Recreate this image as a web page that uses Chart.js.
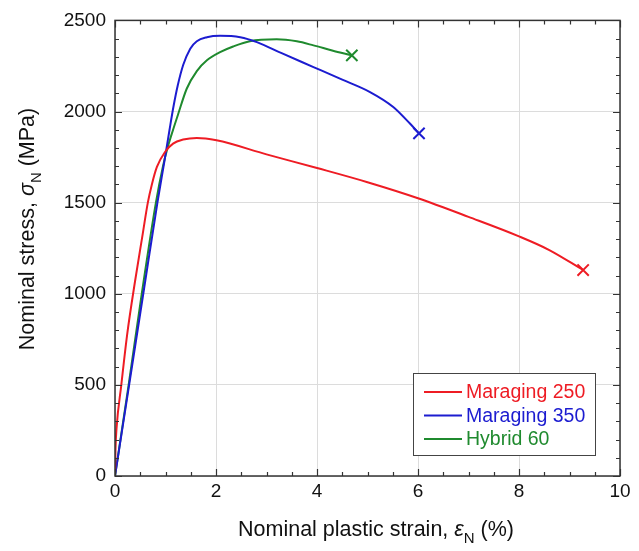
<!DOCTYPE html>
<html>
<head>
<meta charset="utf-8">
<script src="https://cdn.jsdelivr.net/npm/chart.js@4/dist/chart.umd.min.js"></script>
<style>
html,body{margin:0;padding:0;background:#fff;}
#wrap{width:639px;height:551px;}
</style>
</head>
<body>
<div id="wrap"><canvas id="c" width="639" height="551"></canvas></div>
<script>
// ---- data ----
const seriesNames = ["Maraging 250", "Maraging 350", "Hybrid 60"];
const m250X = [0, 0.01, 0.03, 0.125, 0.24, 0.40, 0.55, 0.65, 0.73, 0.83, 0.99, 1.15, 1.35, 1.62, 2.01, 3.0, 4.0, 5.0, 6.0, 7.0, 8.0, 8.6, 9.27];
const m250Y = [0, 150, 260, 500, 775, 1074, 1330, 1500, 1600, 1696, 1778, 1824, 1846, 1855, 1842, 1765, 1690, 1612, 1524, 1422, 1315, 1240, 1130];
const m350X = [0, 0.28, 0.56, 0.84, 0.98, 1.08, 1.16, 1.24, 1.35, 1.49, 1.62, 1.82, 2.08, 2.48, 2.81, 3.3, 3.93, 4.5, 5.05, 5.51, 5.84, 6.02];
const m350Y = [0, 500, 1000, 1500, 1730, 1900, 2030, 2140, 2255, 2345, 2386, 2408, 2416, 2408, 2381, 2320, 2244, 2175, 2107, 2025, 1934, 1880];
const h60X = [0, 0.27, 0.53, 0.81, 0.95, 1.04, 1.15, 1.25, 1.42, 1.62, 1.82, 2.08, 2.34, 2.67, 3.2, 3.6, 3.93, 4.3, 4.69];
const h60Y = [0, 500, 1000, 1500, 1700, 1800, 1900, 1985, 2125, 2222, 2281, 2326, 2357, 2386, 2396, 2385, 2363, 2335, 2308];
const xTickValues = [0, 2, 4, 6, 8, 10];
const yTickValues = [0, 500, 1000, 1500, 2000, 2500];
const xTitleParts = ["Nominal plastic strain, ", "ε", "N", " (%)"];
const yTitleParts = ["Nominal stress, ", "σ", "N", " (MPa)"];

const colors = ["#ee1c24", "#1c1cd0", "#1f8a2e"];
const FONT = "'Liberation Sans', Arial, sans-serif";

function pts(xs, ys){ return xs.map((x,i)=>({x:x, y:ys[i]})); }
function mkDs(label, xs, ys, color){
  const n = xs.length;
  return {
    label: label,
    data: pts(xs, ys),
    showLine: true,
    borderColor: color,
    backgroundColor: color,
    borderWidth: 2,
    cubicInterpolationMode: 'monotone',
    pointStyle: 'crossRot',
    pointRadius: (ctx)=> ctx.dataIndex === n-1 ? 8 : 0,
    pointBorderWidth: 2,
    pointHoverRadius: 0
  };
}

function drawSubTitle(ctx, parts, bigPx, smallPx, cx, by){
  const fonts = [bigPx + "px " + FONT, "italic " + bigPx + "px " + FONT, smallPx + "px " + FONT, bigPx + "px " + FONT];
  const offs = [0, 0, 7, 0];
  const ws = parts.map((p, i)=>{ ctx.font = fonts[i]; return ctx.measureText(p).width; });
  let s = cx - ws.reduce((a,b)=>a+b, 0)/2;
  parts.forEach((p, i)=>{ ctx.font = fonts[i]; ctx.fillText(p, s, by + offs[i]); s += ws[i]; });
}

const frame = {
  id: 'frame',
  afterDraw(chart){
    const ctx = chart.ctx;
    const a = chart.chartArea;
    const xs = chart.scales.x, ys = chart.scales.y;
    ctx.save();
    // ticks inward on all sides
    ctx.strokeStyle = '#333';
    ctx.lineWidth = 1.2;
    ctx.beginPath();
    for (let v = 0; v <= 10.0001; v += 0.5){
      const px = Math.round(xs.getPixelForValue(v)) + 0.5;
      const major = Math.abs(v/2 - Math.round(v/2)) < 1e-6;
      const L = major ? 7 : 4;
      ctx.moveTo(px, a.bottom); ctx.lineTo(px, a.bottom - L);
      ctx.moveTo(px, a.top); ctx.lineTo(px, a.top + L);
    }
    for (let v = 0; v <= 2500.01; v += 100){
      const py = Math.round(ys.getPixelForValue(v)) + 0.5;
      const major = (v % 500) === 0;
      const L = major ? 7 : 4;
      ctx.moveTo(a.left, py); ctx.lineTo(a.left + L, py);
      ctx.moveTo(a.right, py); ctx.lineTo(a.right - L, py);
    }
    ctx.stroke();
    // frame
    ctx.strokeStyle = '#333';
    ctx.lineWidth = 1.5;
    ctx.strokeRect(a.left, a.top, a.right - a.left, a.bottom - a.top);

    // legend box
    const lx = 413, ly = 373, lw = 182, lh = 82;
    ctx.fillStyle = '#fff';
    ctx.fillRect(lx, ly, lw, lh);
    ctx.strokeStyle = '#444';
    ctx.lineWidth = 1;
    ctx.strokeRect(lx + 0.5, ly + 0.5, lw, lh);
    const rows = [392, 415.5, 439];
    ctx.font = "19.5px " + FONT;
    ctx.textBaseline = 'middle';
    ctx.textAlign = 'left';
    chart.data.datasets.forEach((d, i)=>{
      ctx.strokeStyle = d.borderColor;
      ctx.lineWidth = 2;
      ctx.beginPath();
      ctx.moveTo(424, rows[i]); ctx.lineTo(462, rows[i]);
      ctx.stroke();
      ctx.fillStyle = d.borderColor;
      ctx.fillText(d.label, 466, rows[i] + 1);
    });

    // axis titles with subscripts
    ctx.fillStyle = '#111';
    ctx.textBaseline = 'alphabetic';
    drawSubTitle(ctx, xTitleParts, 21.5, 15, 376, 536);
    ctx.save();
    ctx.translate(34, 229);
    ctx.rotate(-Math.PI/2);
    drawSubTitle(ctx, yTitleParts, 21.5, 15, 0, 0);
    ctx.restore();
    ctx.restore();
  }
};

new Chart(document.getElementById('c'), {
  type: 'scatter',
  data: {
    datasets: [
      mkDs(seriesNames[0], m250X, m250Y, colors[0]),
      mkDs(seriesNames[1], m350X, m350Y, colors[1]),
      mkDs(seriesNames[2], h60X, h60Y, colors[2])
    ]
  },
  options: {
    responsive: false,
    animation: false,
    layout: { padding: { top: 20, right: 19, left: 0, bottom: 0 } },
    plugins: { legend: { display: false }, tooltip: { enabled: false } },
    events: [],
    scales: {
      x: {
        type: 'linear', min: 0, max: 10,
        afterBuildTicks: (sc)=>{ sc.ticks = xTickValues.map(v=>({value:v})); },
        afterFit: (sc)=>{ sc.height = 75; },
        ticks: { font: { size: 19, family: FONT }, color: '#111', padding: 4, maxRotation: 0, callback: (v)=> String(v) },
        grid: { color: '#dcdcdc', lineWidth: 1, drawTicks: false, tickLength: 0 },
        border: { display: false }
      },
      y: {
        type: 'linear', min: 0, max: 2500,
        afterBuildTicks: (sc)=>{ sc.ticks = yTickValues.map(v=>({value:v})); },
        afterFit: (sc)=>{ sc.width = 115; },
        ticks: { font: { size: 19, family: FONT }, color: '#111', padding: 9, callback: (v)=> String(v) },
        grid: { color: '#dcdcdc', lineWidth: 1, drawTicks: false, tickLength: 0 },
        border: { display: false }
      }
    }
  },
  plugins: [frame]
});
</script>
</body>
</html>
